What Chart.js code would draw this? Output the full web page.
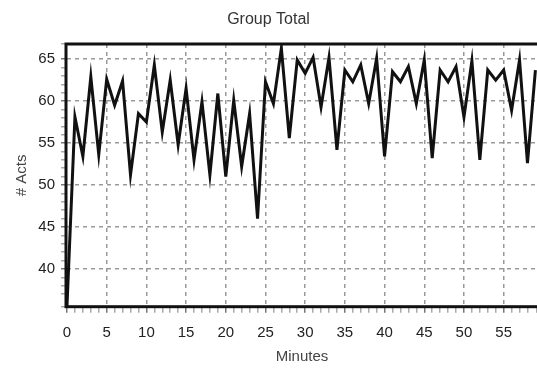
<!DOCTYPE html>
<html>
<head>
<meta charset="utf-8">
<script src="https://cdn.jsdelivr.net/npm/chart.js@4"></script>
<style>
  html, body { margin: 0; padding: 0; background: #fff; }
  #wrap { width: 537px; height: 368px; }
</style>
</head>
<body>
<div id="wrap"><canvas id="groupTotalChart"></canvas></div>
<script>
const minutes = [
  0, 1, 2, 3, 4, 5, 6, 7, 8, 9, 10, 11, 12, 13, 14, 15, 16, 17, 18, 19,
  20, 21, 22, 23, 24, 25, 26, 27, 28, 29, 30, 31, 32, 33, 34, 35, 36, 37, 38, 39,
  40, 41, 42, 43, 44, 45, 46, 47, 48, 49, 50, 51, 52, 53, 54, 55, 56, 57, 58, 59
];
const acts = [
  35.6, 58.1, 53.4, 62.9, 53.6, 62.6, 59.5, 62.4, 51.2, 58.5,
  57.5, 64.3, 56.3, 62.5, 54.8, 61.5, 53.0, 59.9, 51.2, 60.9,
  51.0, 60.1, 52.2, 58.5, 46.0, 62.3, 59.7, 66.3, 55.6, 64.9,
  63.3, 65.2, 59.3, 65.2, 54.2, 63.7, 62.3, 64.3, 59.7, 65.1,
  53.4, 63.5, 62.3, 64.1, 59.7, 64.9, 53.2, 63.7, 62.3, 64.1,
  58.1, 64.8, 53.0, 63.7, 62.5, 63.7, 58.9, 64.9, 52.6, 63.7
];
const xTickStep = 1;
const xLabelEvery = 5;
const yTickStep = 1;
const yLabelEvery = 5;

(function () {
  const font = "'Liberation Sans', Arial, sans-serif";

  const isMajor = (v, every) => Math.abs(v % every) < 1e-9;

  // black frame around the plot area
  const frame = {
    id: 'frame',
    afterDatasetsDraw(chart) {
      const { ctx, chartArea } = chart;
      ctx.save();
      ctx.strokeStyle = '#111';
      ctx.lineWidth = 3;
      ctx.strokeRect(chartArea.left - 1, chartArea.top, chartArea.right - chartArea.left + 10, chartArea.bottom - chartArea.top);
      ctx.restore();
    },
  };

  const points = minutes.map((m, i) => ({ x: m, y: acts[i] }));

  const config = {
    type: 'line',
    data: {
      datasets: [
        {
          label: 'Group Total',
          data: points,
          borderColor: '#111',
          borderWidth: 3,
          pointRadius: 0,
          tension: 0,
          borderJoinStyle: 'miter',
        },
      ],
    },
    options: {
      responsive: true,
      maintainAspectRatio: false,
      animation: false,
      layout: { padding: 0 },
      plugins: {
        legend: { display: false },
        tooltip: { enabled: false },
        title: {
          display: true,
          text: 'Group Total',
          color: '#333',
          font: { family: font, size: 16, weight: 'normal' },
          padding: { top: 10, bottom: 14.8 },
        },
      },
      scales: {
        x: {
          type: 'linear',
          min: 0,
          max: 59.2,
          afterFit: (scale) => {
            scale.height = 61.3;
            scale.paddingRight = 0;
          },
          border: { display: false, dash: [4, 4] },
          grid: {
            color: (c) => (c.tick && c.tick.value > 0 && isMajor(c.tick.value, xLabelEvery) ? '#999' : 'rgba(0,0,0,0)'),
            tickColor: (c) => (c.tick && isMajor(c.tick.value, xLabelEvery) ? '#777' : '#aaa'),
            lineWidth: 1.5,
            tickLength: 6,
          },
          ticks: {
            stepSize: xTickStep,
            autoSkip: false,
            maxRotation: 0,
            padding: 11,
            color: '#222',
            font: { family: font, size: 15 },
            callback: (v) => (isMajor(v, xLabelEvery) ? String(v) : ''),
          },
          title: {
            display: true,
            text: 'Minutes',
            color: '#444',
            font: { family: font, size: 15 },
            padding: { top: 0, bottom: 2 },
          },
        },
        y: {
          min: 35.5,
          max: 66.8,
          afterFit: (scale) => { scale.width = 67; },
          border: { display: false, dash: [4, 4] },
          grid: {
            color: (c) => (c.tick && isMajor(c.tick.value, yLabelEvery) ? '#999' : 'rgba(0,0,0,0)'),
            tickColor: (c) => (c.tick && isMajor(c.tick.value, yLabelEvery) ? '#777' : '#aaa'),
            lineWidth: 1.5,
            tickLength: 6,
          },
          ticks: {
            stepSize: yTickStep,
            autoSkip: false,
            padding: 6,
            color: '#222',
            font: { family: font, size: 15 },
            callback: (v) => (isMajor(v, yLabelEvery) ? String(v) : ''),
          },
          title: {
            display: true,
            text: '# Acts',
            color: '#444',
            font: { family: font, size: 15 },
            padding: { top: 13, bottom: 0 },
          },
        },
      },
    },
    plugins: [frame],
  };

  new Chart(document.getElementById('groupTotalChart'), config);
})();
</script>
</body>
</html>
